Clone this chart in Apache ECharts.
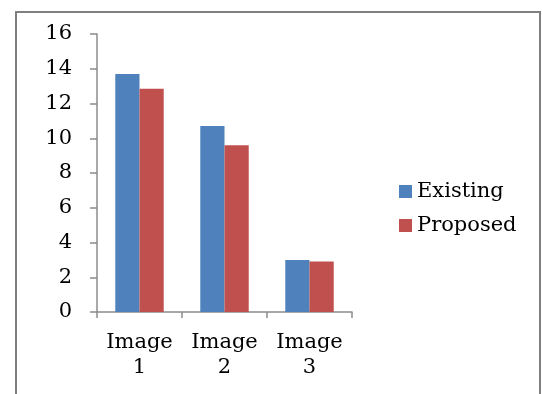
<!DOCTYPE html>
<html>
<head>
<meta charset="utf-8">
<style>
    html, body { margin: 0; padding: 0; background: #fff; }
    #chart { width: 542px; height: 394px; }
</style>
</head>
<body>
<div id="chart"></div>
<script src="https://cdn.jsdelivr.net/npm/echarts@6/dist/echarts.min.js"></script>
<script type="text/javascript">
    // 数据
    var categories = ['Image\n1', 'Image\n2', 'Image\n3'];
    var existing = [13.7, 10.7, 3.0];
    var proposed = [12.85, 9.6, 2.9];
    var yTicks = [0, 2, 4, 6, 8, 10, 12, 14, 16];

    var font = 'DejaVu Serif';
    var axisColor = '#8c8c8c';

    var chart = echarts.init(document.getElementById('chart'), null, {renderer: 'canvas'});
    var option = {
        animation: false,
        backgroundColor: '#fff',
        textStyle: {
            fontFamily: font,
            color: '#000'
        },
        // 外框
        graphic: [{
            type: 'rect',
            shape: {x: 16, y: 12, width: 524, height: 400},
            style: {fill: 'none', stroke: '#7f7f7f', lineWidth: 2}
        }],
        legend: {
            orient: 'vertical',
            left: 394,
            top: 176,
            itemWidth: 13,
            itemHeight: 13,
            itemGap: 13,
            icon: 'rect',
            data: ['Existing', 'Proposed'],
            textStyle: {
                fontFamily: font,
                fontSize: 21,
                color: '#000',
                padding: [0, 0, 0, 0]
            }
        },
        grid: {
            left: 97,
            top: 34,
            width: 255,
            height: 278,
            containLabel: false
        },
        xAxis: {
            type: 'category',
            data: categories,
            axisLine: {lineStyle: {color: axisColor, width: 1.5}},
            axisTick: {show: true, length: 6, lineStyle: {color: axisColor, width: 1.5}},
            axisLabel: {
                interval: 0,
                hideOverlap: false,
                fontFamily: font,
                fontSize: 21,
                color: '#000',
                margin: 18,
                lineHeight: 25
            }
        },
        yAxis: {
            type: 'value',
            min: yTicks[0],
            max: yTicks[yTicks.length - 1],
            interval: 2,
            splitLine: {show: false},
            axisLine: {show: true, lineStyle: {color: axisColor, width: 1.5}},
            axisTick: {show: true, length: 7, lineStyle: {color: axisColor, width: 1.5}},
            axisLabel: {
                fontFamily: font,
                fontSize: 21,
                color: '#000',
                margin: 25
            }
        },
        series: [{
            name: 'Existing',
            type: 'bar',
            data: existing,
            barGap: '0%',
            barCategoryGap: '43%',
            itemStyle: {color: '#4f81bd'}
        }, {
            name: 'Proposed',
            type: 'bar',
            data: proposed,
            itemStyle: {color: '#c0504d'}
        }]
    };
    chart.setOption(option);
</script>
</body>
</html>
